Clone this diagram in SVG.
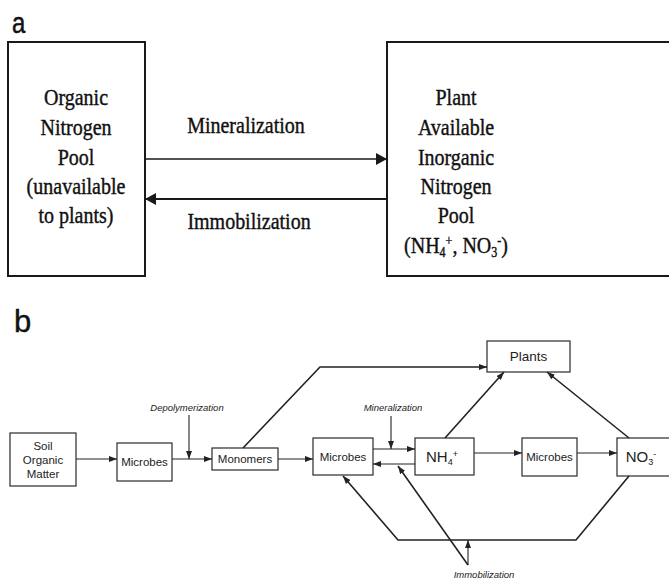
<svg xmlns="http://www.w3.org/2000/svg" width="669" height="581" viewBox="0 0 669 581">
<style>
.bg{fill:#fff}
.boxA{fill:#fff;stroke:#1a1a1a;stroke-width:2}
.boxB{fill:#fff;stroke:#2a2a2a;stroke-width:1.2}
.ta{font-family:"Liberation Serif","Times New Roman",serif;font-size:20px;fill:#111;stroke:#111;stroke-width:0.35;text-anchor:middle}
.tl{font-family:"Liberation Sans",Arial,sans-serif;fill:#111;stroke:#111;stroke-width:0.4}
.tb{font-family:"Liberation Sans",Arial,sans-serif;font-size:11.5px;fill:#222;text-anchor:middle}
.tbig{font-family:"Liberation Sans",Arial,sans-serif;font-size:15px;fill:#222;text-anchor:middle}
.ti{font-family:"Liberation Sans",Arial,sans-serif;font-size:9.5px;font-style:italic;fill:#222;text-anchor:middle}
.ca{stroke:#1a1a1a;fill:none}
.cb{stroke:#222;stroke-width:1.1;fill:none}
.cd{stroke:#222;stroke-width:1.6;fill:none}
</style>
<defs>
<marker id="big" markerUnits="userSpaceOnUse" markerWidth="11" markerHeight="12" refX="11" refY="6" orient="auto"><path d="M0,0 L11,6 L0,12 z" fill="#1a1a1a"/></marker>
<marker id="sm" markerUnits="userSpaceOnUse" markerWidth="8" markerHeight="6" refX="8" refY="3" orient="auto"><path d="M0,0 L8,3 L0,6 z" fill="#222"/></marker>
</defs>
<rect class="bg" x="0" y="0" width="669" height="581"/>

<!-- Panel a -->
<text class="tl" transform="translate(12,33) scale(1,1.2)" font-size="24">a</text>
<g id="organic-pool">
<rect class="boxA" x="8" y="42" width="137" height="234"/>
<text class="ta" transform="translate(76,105) scale(1,1.2)">Organic</text>
<text class="ta" transform="translate(76,135) scale(1,1.2)">Nitrogen</text>
<text class="ta" transform="translate(76,165) scale(1,1.2)">Pool</text>
<text class="ta" transform="translate(76,194) scale(1,1.2)">(unavailable</text>
<text class="ta" transform="translate(76,223) scale(1,1.2)">to plants)</text>
</g>
<g id="inorganic-pool">
<rect class="boxA" x="387" y="42" width="292" height="234"/>
<text class="ta" transform="translate(456,105) scale(1,1.2)">Plant</text>
<text class="ta" transform="translate(456,135) scale(1,1.2)">Available</text>
<text class="ta" transform="translate(456,165) scale(1,1.2)">Inorganic</text>
<text class="ta" transform="translate(456,194) scale(1,1.2)">Nitrogen</text>
<text class="ta" transform="translate(456,223) scale(1,1.2)">Pool</text>
<text class="ta" transform="translate(456,253) scale(1,1.2)">(NH<tspan font-size="12" dy="3">4</tspan><tspan font-size="12" dy="-10">+</tspan><tspan dy="7">, NO</tspan><tspan font-size="12" dy="3">3</tspan><tspan font-size="12" dy="-10">-</tspan><tspan dy="7">)</tspan></text>
</g>
<g id="connectors-a">
<line class="ca" x1="145" y1="159" x2="387" y2="159" stroke-width="1.6" marker-end="url(#big)"/>
<line class="ca" x1="387" y1="199" x2="145" y2="199" stroke-width="2.2" marker-end="url(#big)"/>
<text class="ta" transform="translate(246,133) scale(1,1.2)">Mineralization</text>
<text class="ta" transform="translate(249,229) scale(1,1.2)">Immobilization</text>
</g>

<!-- Panel b -->
<text class="tl" x="14" y="332" font-size="31">b</text>
<g id="som">
<rect class="boxB" x="10" y="433" width="66" height="53"/>
<text class="tb" x="43" y="450">Soil</text>
<text class="tb" x="43" y="464">Organic</text>
<text class="tb" x="43" y="478">Matter</text>
</g>
<g id="microbes1">
<rect class="boxB" x="117" y="443" width="55" height="38"/>
<text class="tb" x="144.5" y="466">Microbes</text>
</g>
<g id="monomers">
<rect class="boxB" x="212" y="448" width="66" height="22"/>
<text class="tb" x="245" y="463">Monomers</text>
</g>
<g id="microbes2">
<rect class="boxB" x="313" y="438" width="60" height="37"/>
<text class="tb" x="343" y="461">Microbes</text>
</g>
<g id="nh4">
<rect class="boxB" x="415" y="438" width="59" height="37"/>
<text class="tbig" x="442" y="462">NH<tspan font-size="9" dy="3">4</tspan><tspan font-size="9" dy="-8">+</tspan></text>
</g>
<g id="microbes3">
<rect class="boxB" x="522" y="438" width="55" height="38"/>
<text class="tb" x="549.5" y="461">Microbes</text>
</g>
<g id="no3">
<rect class="boxB" x="617" y="438" width="60" height="38"/>
<text class="tbig" x="641" y="462">NO<tspan font-size="9" dy="3">3</tspan><tspan font-size="9" dy="-8">-</tspan></text>
</g>
<g id="plants">
<rect class="boxB" x="487" y="341" width="83" height="31"/>
<text class="tb" x="528.5" y="361" style="font-size:13.5px">Plants</text>
</g>

<g id="connectors-b">
<line class="cb" x1="76" y1="459" x2="117" y2="459" marker-end="url(#sm)"/>
<line class="cb" x1="172" y1="459" x2="212" y2="459" marker-end="url(#sm)"/>
<line class="cb" x1="189" y1="415" x2="189" y2="459" marker-end="url(#sm)"/>
<line class="cb" x1="278" y1="459" x2="313" y2="459" marker-end="url(#sm)"/>
<polyline class="cd" points="243,448 320,367 487,367" marker-end="url(#sm)"/>
<line class="cb" x1="373" y1="449" x2="415" y2="449" marker-end="url(#sm)"/>
<line class="cb" x1="415" y1="464" x2="373" y2="464" marker-end="url(#sm)"/>
<line class="cb" x1="391" y1="416" x2="391" y2="449" marker-end="url(#sm)"/>
<line class="cd" x1="445" y1="438" x2="504" y2="372" marker-end="url(#sm)"/>
<line class="cd" x1="629" y1="438" x2="547" y2="372" marker-end="url(#sm)"/>
<line class="cb" x1="474" y1="453" x2="522" y2="453" marker-end="url(#sm)"/>
<line class="cb" x1="577" y1="453" x2="617" y2="453" marker-end="url(#sm)"/>
<polyline class="cd" points="629,476 576,540 398,540 343,476" marker-end="url(#sm)"/>
<line class="cd" x1="468" y1="565" x2="398" y2="466" marker-end="url(#sm)"/>
<line class="cb" x1="468" y1="565" x2="468" y2="540" marker-end="url(#sm)"/>
<text class="ti" x="187" y="411">Depolymerization</text>
<text class="ti" x="393" y="411">Mineralization</text>
<text class="ti" x="484" y="578">Immobilization</text>
</g>
</svg>
